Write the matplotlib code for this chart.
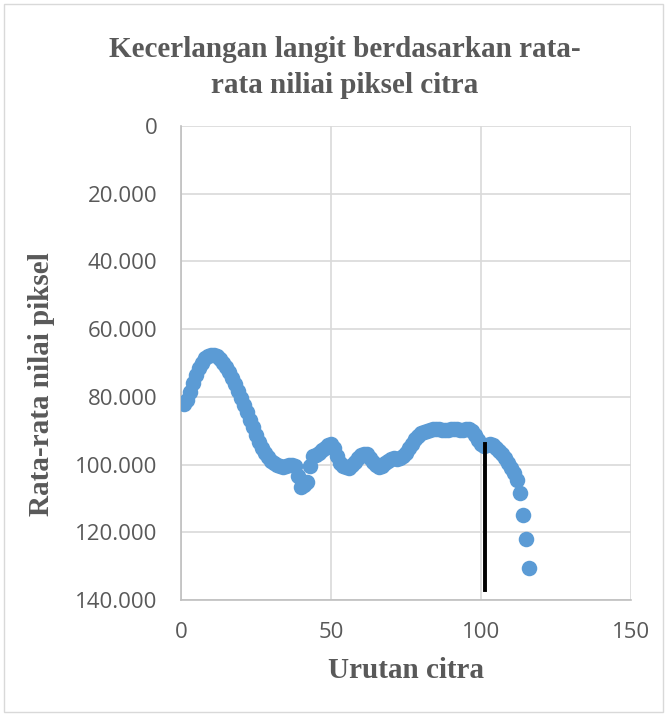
import numpy as np
import matplotlib.pyplot as plt
from matplotlib.patches import Rectangle
from matplotlib.ticker import FuncFormatter

# data
urutan = np.arange(1, 117)
rata_rata = [
    82, 81, 78.5, 76, 73.5, 71.5, 70, 68.5, 67.8, 67.5,
    67.5, 68, 68.8, 70, 71.3, 72.8, 74.5, 76.3, 78.2, 80.2,
    82.3, 84.5, 86.8, 89, 91.2, 93.2, 95, 96.6, 97.8, 98.8,
    99.5, 100, 100.4, 100.6, 100.4, 100.2, 100, 100.3, 103.5, 106.5,
    106, 105, 100.5, 97.5, 97.2, 96.5, 95.8, 95, 94.2, 93.8,
    95, 97.5, 99.5, 100.3, 100.8, 101, 100.2, 99.2, 98.2, 97.3,
    96.8, 97, 98, 99.2, 100.2, 100.6, 100.3, 99.5, 98.8, 98.3,
    98.2, 98.5, 98.2, 97.6, 96.5, 95.2, 93.8, 92.5, 91.5, 90.8,
    90.3, 90, 89.8, 89.6, 89.5, 89.6, 89.8, 89.8, 89.7, 89.5,
    89.4, 89.5, 89.7, 89.8, 89.6, 89.5, 90.2, 91.3, 92.8, 94,
    94.6, 94.2, 93.8, 94.2, 95, 96, 97, 98.2, 99.5, 101,
    102.5, 104.5, 108.5, 115, 122, 130.5,
]
batas_x = [101.3, 101.3]
batas_y = [94, 137]

x_ticks = [0, 50, 100, 150]
y_ticks = [0, 20, 40, 60, 80, 100, 120, 140]

grey = '#595959'
serif = 'Liberation Serif'

fig = plt.figure(figsize=(6.67, 7.15), dpi=100)
fig.patches.append(Rectangle((0.006, 0.004), 0.988, 0.99, transform=fig.transFigure,
                             fill=False, edgecolor='#d9d9d9', linewidth=1))

ax = fig.add_axes([181 / 667, 115 / 715, 450 / 667, 474 / 715])
ax.scatter(urutan, rata_rata, s=125, color='#5b9bd5', zorder=3, linewidths=0)
ax.plot(batas_x, batas_y, color='black', linewidth=2.8, zorder=4)

ax.set_xlim(0, 150)
ax.set_ylim(140, 0)
ax.set_xticks(x_ticks)
ax.set_yticks(y_ticks)
ax.yaxis.set_major_formatter(FuncFormatter(lambda v, p: '0' if v == 0 else f'{v:.3f}'))
ax.tick_params(axis='y', length=0, labelsize=16, labelcolor=grey, pad=17)
ax.tick_params(axis='x', length=0, labelsize=16, labelcolor=grey, pad=16)
for lab in ax.get_xticklabels() + ax.get_yticklabels():
    lab.set_family('Open Sans')

ax.grid(True, color='#d9d9d9', linewidth=1.2)
ax.set_axisbelow(True)
for s in ['top', 'right']:
    ax.spines[s].set_visible(False)
for s in ['left', 'bottom']:
    ax.spines[s].set_color('#bfbfbf')
    ax.spines[s].set_linewidth(1.2)

ax.set_xlabel('Urutan citra', family=serif, fontweight='bold', fontsize=21, color=grey)
ax.set_ylabel('Rata-rata nilai piksel', family=serif, fontweight='bold', fontsize=21, color=grey)
ax.xaxis.set_label_coords(0.5, -0.12)
ax.yaxis.set_label_coords(-0.28, 0.455)

fig.text(0.517, 0.906, 'Kecerlangan langit berdasarkan rata-\nrata niliai piksel citra',
         ha='center', va='center', family=serif, fontweight='bold', fontsize=21,
         color=grey, linespacing=1.42)

fig.savefig('out.png', dpi=100)
